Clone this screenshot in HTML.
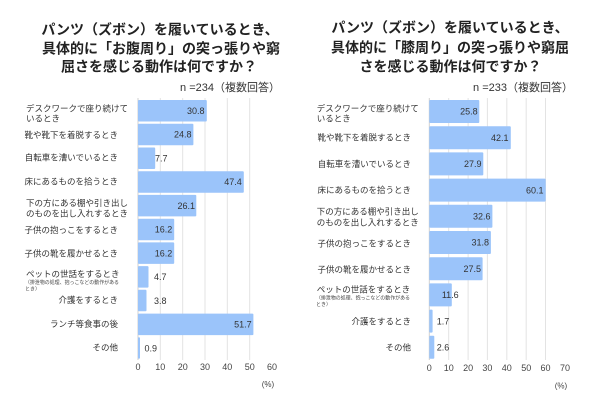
<!DOCTYPE html>
<html><head><meta charset="utf-8">
<style>
html,body{margin:0;padding:0;background:#fff;}
svg{display:block;}
text{font-family:"Liberation Sans","Noto Sans CJK JP",sans-serif;fill:#333;}
.t{font-size:14px;font-weight:bold;fill:#222;}
.n{font-size:11px;fill:#333;}
.l{font-size:8.5px;fill:#333;}
.s{font-size:5px;fill:#444;}
.v{font-size:9px;fill:#333;}
.k{font-size:9px;fill:#444;}
.p{font-size:8px;fill:#444;}
.b{fill:#9bc4fa;}
.g{stroke:#e3e3e3;stroke-width:1;}
</style></head>
<body>
<svg width="600" height="401" viewBox="0 0 600 401" xmlns="http://www.w3.org/2000/svg">
<rect width="600" height="401" fill="#fff"/>

<!-- LEFT CHART -->
<text class="t" x="160" y="34.3" text-anchor="middle">パンツ（ズボン）を履いているとき、</text>
<text class="t" x="161" y="53.3" text-anchor="middle">具体的に「お腹周り」の突っ張りや窮</text>
<text class="t" x="159" y="71.5" text-anchor="middle">屈さを感じる動作は何ですか？</text>
<text class="n" x="280" y="91" text-anchor="end">n =234（複数回答）</text>

<g>
<line class="g" x1="160.3" y1="98" x2="160.3" y2="360"/>
<line class="g" x1="182.7" y1="98" x2="182.7" y2="360"/>
<line class="g" x1="205" y1="98" x2="205" y2="360"/>
<line class="g" x1="227.3" y1="98" x2="227.3" y2="360"/>
<line class="g" x1="249.7" y1="98" x2="249.7" y2="360"/>
<line x1="138" y1="98" x2="138" y2="360" stroke="#d0d0d0" stroke-width="1"/>
</g>

<g>
<rect class="b" x="138" y="100" width="68.8" height="21.5" rx="1"/>
<rect class="b" x="138" y="123.7" width="55.4" height="21.5" rx="1"/>
<rect class="b" x="138" y="147.5" width="17.2" height="21.5" rx="1"/>
<rect class="b" x="138" y="171.2" width="105.8" height="21.5" rx="1"/>
<rect class="b" x="138" y="194.9" width="58.3" height="21.5" rx="1"/>
<rect class="b" x="138" y="218.7" width="36.2" height="21.5" rx="1"/>
<rect class="b" x="138" y="242.4" width="36.2" height="21.5" rx="1"/>
<rect class="b" x="138" y="266.1" width="10.5" height="21.5" rx="1"/>
<rect class="b" x="138" y="289.8" width="8.5" height="21.5" rx="1"/>
<rect class="b" x="138" y="313.6" width="115.4" height="21.5" rx="1"/>
<rect class="b" x="138" y="337.3" width="2" height="21.5" rx="1"/>
</g>

<g>
<text class="v" x="204.5" y="114" text-anchor="end">30.8</text>
<text class="v" x="191.5" y="137.7" text-anchor="end">24.8</text>
<text class="v" x="155" y="161.4">7.7</text>
<text class="v" x="241.8" y="185.2" text-anchor="end">47.4</text>
<text class="v" x="195" y="208.9" text-anchor="end">26.1</text>
<text class="v" x="172.3" y="232.6" text-anchor="end">16.2</text>
<text class="v" x="172.3" y="256.3" text-anchor="end">16.2</text>
<text class="v" x="154" y="280.1">4.7</text>
<text class="v" x="154" y="303.8">3.8</text>
<text class="v" x="251.7" y="327.5" text-anchor="end">51.7</text>
<text class="v" x="144.5" y="351.3">0.9</text>
</g>

<g>
<text class="l" x="26" y="111.3">デスクワークで座り続けて</text>
<text class="l" x="26" y="121.3">いるとき</text>
<text class="l" x="118" y="138" text-anchor="end">靴や靴下を着脱するとき</text>
<text class="l" x="118" y="160.7" text-anchor="end">自転車を漕いでいるとき</text>
<text class="l" x="118" y="184.7" text-anchor="end">床にあるものを拾うとき</text>
<text class="l" x="26" y="206">下の方にある棚や引き出し</text>
<text class="l" x="26" y="216.3">のものを出し入れするとき</text>
<text class="l" x="118" y="233" text-anchor="end">子供の抱っこをするとき</text>
<text class="l" x="118" y="256.3" text-anchor="end">子供の靴を履かせるとき</text>
<text class="l" x="26" y="277">ペットの世話をするとき</text>
<text class="s" x="25" y="284" textLength="94" lengthAdjust="spacingAndGlyphs">（排泄物の処理、抱っこなどの動作がある</text>
<text class="s" x="25" y="290.5">とき）</text>
<text class="l" x="118" y="303" text-anchor="end">介護をするとき</text>
<text class="l" x="118" y="327" text-anchor="end">ランチ等食事の後</text>
<text class="l" x="118" y="350.3" text-anchor="end">その他</text>
</g>

<g text-anchor="middle">
<text class="k" x="138" y="370">0</text>
<text class="k" x="160.3" y="370">10</text>
<text class="k" x="182.7" y="370">20</text>
<text class="k" x="205" y="370">30</text>
<text class="k" x="227.3" y="370">40</text>
<text class="k" x="249.7" y="370">50</text>
<text class="k" x="272" y="370">60</text>
<text class="p" x="268" y="387">(%)</text>
</g>

<!-- RIGHT CHART -->
<text class="t" x="450" y="32.5" text-anchor="middle">パンツ（ズボン）を履いているとき、</text>
<text class="t" x="450" y="52.5" text-anchor="middle">具体的に「膝周り」の突っ張りや窮屈</text>
<text class="t" x="450.5" y="71.5" text-anchor="middle">さを感じる動作は何ですか？</text>
<text class="n" x="573" y="91" text-anchor="end">n =233（複数回答）</text>

<g>
<line class="g" x1="448.7" y1="98" x2="448.7" y2="360"/>
<line class="g" x1="468.1" y1="98" x2="468.1" y2="360"/>
<line class="g" x1="487.4" y1="98" x2="487.4" y2="360"/>
<line class="g" x1="506.8" y1="98" x2="506.8" y2="360"/>
<line class="g" x1="526.2" y1="98" x2="526.2" y2="360"/>
<line class="g" x1="545.5" y1="98" x2="545.5" y2="360"/>
<line x1="429.3" y1="98" x2="429.3" y2="360" stroke="#d0d0d0" stroke-width="1"/>
</g>

<g>
<rect class="b" x="429.3" y="100" width="50" height="23" rx="1"/>
<rect class="b" x="429.3" y="126.2" width="81.5" height="23" rx="1"/>
<rect class="b" x="429.3" y="152.4" width="54" height="23" rx="1"/>
<rect class="b" x="429.3" y="178.6" width="116.4" height="23" rx="1"/>
<rect class="b" x="429.3" y="204.8" width="63.1" height="23" rx="1"/>
<rect class="b" x="429.3" y="231" width="61.6" height="23" rx="1"/>
<rect class="b" x="429.3" y="257.2" width="53.3" height="23" rx="1"/>
<rect class="b" x="429.3" y="283.4" width="22.5" height="23" rx="1"/>
<rect class="b" x="429.3" y="309.6" width="3.3" height="23" rx="1"/>
<rect class="b" x="429.3" y="335.8" width="5" height="23" rx="1"/>
</g>

<g>
<text class="v" x="477.7" y="114.7" text-anchor="end">25.8</text>
<text class="v" x="508.5" y="140.9" text-anchor="end">42.1</text>
<text class="v" x="481.5" y="167.1" text-anchor="end">27.9</text>
<text class="v" x="543.5" y="193.3" text-anchor="end">60.1</text>
<text class="v" x="490.5" y="219.5" text-anchor="end">32.6</text>
<text class="v" x="489" y="245.7" text-anchor="end">31.8</text>
<text class="v" x="481" y="271.9" text-anchor="end">27.5</text>
<text class="v" x="458.7" y="298.1" text-anchor="end">11.6</text>
<text class="v" x="436.7" y="324.3">1.7</text>
<text class="v" x="436.7" y="350.5">2.6</text>
</g>

<g>
<text class="l" x="316.7" y="111.3">デスクワークで座り続けて</text>
<text class="l" x="316.7" y="121.3">いるとき</text>
<text class="l" x="411" y="140.3" text-anchor="end">靴や靴下を着脱するとき</text>
<text class="l" x="411" y="167" text-anchor="end">自転車を漕いでいるとき</text>
<text class="l" x="411" y="193" text-anchor="end">床にあるものを拾うとき</text>
<text class="l" x="316.7" y="214.7">下の方にある棚や引き出し</text>
<text class="l" x="316.7" y="225.3">のものを出し入れするとき</text>
<text class="l" x="411" y="246.3" text-anchor="end">子供の抱っこをするとき</text>
<text class="l" x="411" y="272.3" text-anchor="end">子供の靴を履かせるとき</text>
<text class="l" x="316.7" y="292.3">ペットの世話をするとき</text>
<text class="s" x="316" y="299.5" textLength="94" lengthAdjust="spacingAndGlyphs">（排泄物の処理、抱っこなどの動作がある</text>
<text class="s" x="316" y="306">とき）</text>
<text class="l" x="411" y="324.7" text-anchor="end">介護をするとき</text>
<text class="l" x="411" y="350.3" text-anchor="end">その他</text>
</g>

<g text-anchor="middle">
<text class="k" x="429.3" y="371">0</text>
<text class="k" x="448.7" y="371">10</text>
<text class="k" x="468.1" y="371">20</text>
<text class="k" x="487.4" y="371">30</text>
<text class="k" x="506.8" y="371">40</text>
<text class="k" x="526.2" y="371">50</text>
<text class="k" x="545.5" y="371">60</text>
<text class="k" x="565" y="371">70</text>
<text class="p" x="561" y="388.5">(%)</text>
</g>
</svg>
</body></html>
